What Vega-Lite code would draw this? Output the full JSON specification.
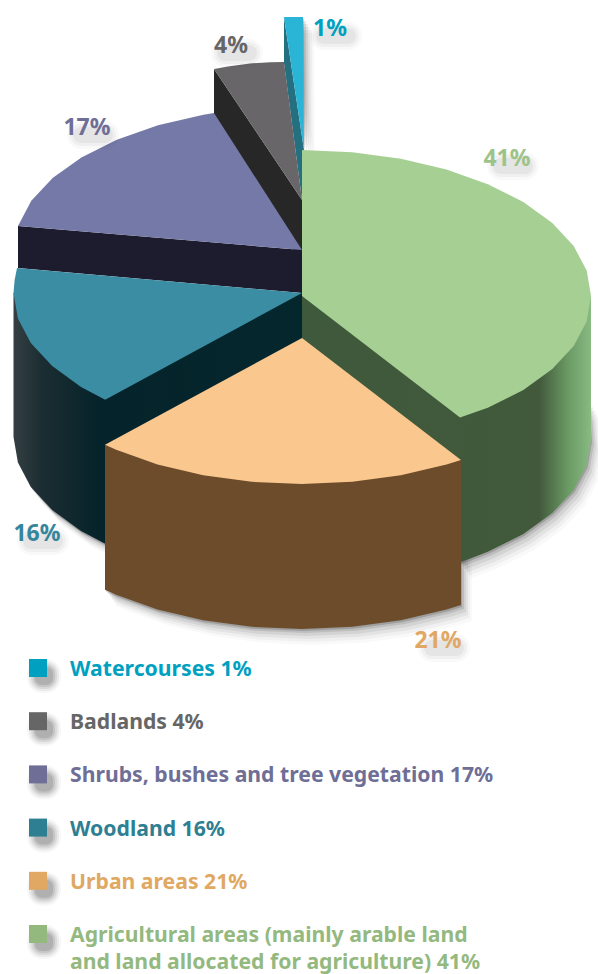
{
  "$schema": "https://vega.github.io/schema/vega-lite/v6.json",
  "width": 598,
  "height": 974,
  "padding": 0,
  "autosize": {"type": "none"},
  "background": "white",
  "config": {"view": {"stroke": null}},
  "datasets": {
    "land_cover": [
      {"category": "Watercourses", "share": 0.01, "rank": 1, "label_x": 330, "label_y": 28, "caption": "Watercourses 1%"},
      {"category": "Badlands", "share": 0.04, "rank": 2, "label_x": 231, "label_y": 45, "caption": "Badlands 4%"},
      {"category": "Shrubs", "share": 0.17, "rank": 3, "label_x": 87, "label_y": 127, "caption": "Shrubs, bushes and tree vegetation 17%"},
      {"category": "Woodland", "share": 0.16, "rank": 4, "label_x": 37, "label_y": 533, "caption": "Woodland 16%"},
      {"category": "Urban", "share": 0.21, "rank": 5, "label_x": 438, "label_y": 640, "caption": "Urban areas 21%"},
      {"category": "Agricultural", "share": 0.41, "rank": 6, "label_x": 507, "label_y": 158, "caption": "Agricultural areas (mainly arable land\nand land allocated for agriculture) 41%"}
    ],
    "outlines": [
      {"piece": "water_side", "i": 0, "x": 284, "y": 17},
      {"piece": "water_side", "i": 1, "x": 304, "y": 150},
      {"piece": "water_side", "i": 2, "x": 302, "y": 200},
      {"piece": "water_side", "i": 3, "x": 284, "y": 63},
      {"piece": "water_top", "i": 0, "x": 284, "y": 17},
      {"piece": "water_top", "i": 1, "x": 303, "y": 17},
      {"piece": "water_top", "i": 2, "x": 304, "y": 150},

      {"piece": "bad_side", "i": 0, "x": 214, "y": 69},
      {"piece": "bad_side", "i": 1, "x": 214, "y": 140},
      {"piece": "bad_side", "i": 2, "x": 302, "y": 262},
      {"piece": "bad_side", "i": 3, "x": 302, "y": 200},
      {"piece": "bad_top", "i": 0, "x": 214, "y": 69},
      {"piece": "bad_top", "i": 1, "x": 228, "y": 66.5},
      {"piece": "bad_top", "i": 2, "x": 250, "y": 63.5},
      {"piece": "bad_top", "i": 3, "x": 270, "y": 62.2},
      {"piece": "bad_top", "i": 4, "x": 284, "y": 62},
      {"piece": "bad_top", "i": 5, "x": 302, "y": 200},

      {"piece": "shrub_side", "i": 0, "x": 18, "y": 226},
      {"piece": "shrub_side", "i": 1, "x": 18, "y": 268},
      {"piece": "shrub_side", "i": 2, "x": 302, "y": 293},
      {"piece": "shrub_side", "i": 3, "x": 302, "y": 250},
      {"piece": "shrub_top", "i": 0, "x": 302, "y": 250},
      {"piece": "shrub_top", "i": 1, "x": 18, "y": 226},
      {"piece": "shrub_top", "i": 2, "x": 31.3, "y": 200.8},
      {"piece": "shrub_top", "i": 3, "x": 52.6, "y": 178},
      {"piece": "shrub_top", "i": 4, "x": 81.4, "y": 157.4},
      {"piece": "shrub_top", "i": 5, "x": 116.8, "y": 139.7},
      {"piece": "shrub_top", "i": 6, "x": 158, "y": 125.3},
      {"piece": "shrub_top", "i": 7, "x": 203.5, "y": 114.7},
      {"piece": "shrub_top", "i": 8, "x": 214, "y": 113},

      {"piece": "wood_side", "i": 0, "x": 302, "y": 293},
      {"piece": "wood_side", "i": 1, "x": 13.5, "y": 293},
      {"piece": "wood_side", "i": 2, "x": 13.5, "y": 437},
      {"piece": "wood_side", "i": 3, "x": 17.9, "y": 462.4},
      {"piece": "wood_side", "i": 4, "x": 30.8, "y": 486.9},
      {"piece": "wood_side", "i": 5, "x": 52.2, "y": 510},
      {"piece": "wood_side", "i": 6, "x": 81, "y": 530.9},
      {"piece": "wood_side", "i": 7, "x": 105.2, "y": 543.7},
      {"piece": "wood_side", "i": 8, "x": 302, "y": 437},
      {"piece": "wood_top", "i": 0, "x": 302, "y": 293},
      {"piece": "wood_top", "i": 1, "x": 17, "y": 268},
      {"piece": "wood_top", "i": 2, "x": 14.6, "y": 280.3},
      {"piece": "wood_top", "i": 3, "x": 13.5, "y": 293},
      {"piece": "wood_top", "i": 4, "x": 17.9, "y": 318.4},
      {"piece": "wood_top", "i": 5, "x": 30.8, "y": 342.9},
      {"piece": "wood_top", "i": 6, "x": 52.2, "y": 366},
      {"piece": "wood_top", "i": 7, "x": 81, "y": 386.9},
      {"piece": "wood_top", "i": 8, "x": 105.2, "y": 399.7},

      {"piece": "wood_cast", "i": 0, "x": 105, "y": 470},
      {"piece": "wood_cast", "i": 1, "x": 30.8, "y": 460},
      {"piece": "wood_cast", "i": 2, "x": 30.8, "y": 486.9},
      {"piece": "wood_cast", "i": 3, "x": 52.2, "y": 510},
      {"piece": "wood_cast", "i": 4, "x": 81, "y": 530.9},
      {"piece": "wood_cast", "i": 5, "x": 105.2, "y": 543.7},

      {"piece": "agri_side", "i": 0, "x": 302, "y": 296},
      {"piece": "agri_side", "i": 1, "x": 591, "y": 296},
      {"piece": "agri_side", "i": 2, "x": 591, "y": 440},
      {"piece": "agri_side", "i": 3, "x": 586.7, "y": 465.4},
      {"piece": "agri_side", "i": 4, "x": 573.7, "y": 489.9},
      {"piece": "agri_side", "i": 5, "x": 552.3, "y": 513},
      {"piece": "agri_side", "i": 6, "x": 523.4, "y": 533.9},
      {"piece": "agri_side", "i": 7, "x": 487.8, "y": 551.8},
      {"piece": "agri_side", "i": 8, "x": 460, "y": 562.5},
      {"piece": "agri_side", "i": 9, "x": 302, "y": 440},
      {"piece": "agri_top", "i": 0, "x": 302, "y": 296},
      {"piece": "agri_top", "i": 1, "x": 302, "y": 150},
      {"piece": "agri_top", "i": 2, "x": 352.3, "y": 152.2},
      {"piece": "agri_top", "i": 3, "x": 400.8, "y": 158.8},
      {"piece": "agri_top", "i": 4, "x": 446.5, "y": 169.6},
      {"piece": "agri_top", "i": 5, "x": 487.8, "y": 184.2},
      {"piece": "agri_top", "i": 6, "x": 523.4, "y": 202.1},
      {"piece": "agri_top", "i": 7, "x": 552.3, "y": 223},
      {"piece": "agri_top", "i": 8, "x": 573.7, "y": 246.1},
      {"piece": "agri_top", "i": 9, "x": 586.7, "y": 270.6},
      {"piece": "agri_top", "i": 10, "x": 591, "y": 296},
      {"piece": "agri_top", "i": 11, "x": 586.7, "y": 321.4},
      {"piece": "agri_top", "i": 12, "x": 573.7, "y": 345.9},
      {"piece": "agri_top", "i": 13, "x": 552.3, "y": 369},
      {"piece": "agri_top", "i": 14, "x": 523.4, "y": 389.9},
      {"piece": "agri_top", "i": 15, "x": 487.8, "y": 407.8},
      {"piece": "agri_top", "i": 16, "x": 460, "y": 417.5},

      {"piece": "agri_cast", "i": 0, "x": 440, "y": 500},
      {"piece": "agri_cast", "i": 1, "x": 588, "y": 400},
      {"piece": "agri_cast", "i": 2, "x": 591, "y": 440},
      {"piece": "agri_cast", "i": 3, "x": 586.7, "y": 465.4},
      {"piece": "agri_cast", "i": 4, "x": 573.7, "y": 489.9},
      {"piece": "agri_cast", "i": 5, "x": 552.3, "y": 513},
      {"piece": "agri_cast", "i": 6, "x": 523.4, "y": 533.9},
      {"piece": "agri_cast", "i": 7, "x": 487.8, "y": 551.8},
      {"piece": "agri_cast", "i": 8, "x": 460, "y": 562.5},

      {"piece": "urban_side", "i": 0, "x": 105, "y": 444.7},
      {"piece": "urban_side", "i": 1, "x": 461, "y": 459.9},
      {"piece": "urban_side", "i": 2, "x": 461, "y": 604.9},
      {"piece": "urban_side", "i": 3, "x": 446.5, "y": 609.4},
      {"piece": "urban_side", "i": 4, "x": 400.8, "y": 620.2},
      {"piece": "urban_side", "i": 5, "x": 352.3, "y": 626.8},
      {"piece": "urban_side", "i": 6, "x": 302, "y": 629},
      {"piece": "urban_side", "i": 7, "x": 251.7, "y": 626.8},
      {"piece": "urban_side", "i": 8, "x": 203.2, "y": 620.2},
      {"piece": "urban_side", "i": 9, "x": 157.5, "y": 609.4},
      {"piece": "urban_side", "i": 10, "x": 116.2, "y": 594.8},
      {"piece": "urban_side", "i": 11, "x": 105, "y": 589.7},
      {"piece": "urban_top", "i": 0, "x": 302, "y": 338},
      {"piece": "urban_top", "i": 1, "x": 461, "y": 459.9},
      {"piece": "urban_top", "i": 2, "x": 446.5, "y": 464.4},
      {"piece": "urban_top", "i": 3, "x": 400.8, "y": 475.2},
      {"piece": "urban_top", "i": 4, "x": 352.3, "y": 481.8},
      {"piece": "urban_top", "i": 5, "x": 302, "y": 484},
      {"piece": "urban_top", "i": 6, "x": 251.7, "y": 481.8},
      {"piece": "urban_top", "i": 7, "x": 203.2, "y": 475.2},
      {"piece": "urban_top", "i": 8, "x": 157.5, "y": 464.4},
      {"piece": "urban_top", "i": 9, "x": 116.2, "y": 449.8},
      {"piece": "urban_top", "i": 10, "x": 105, "y": 444.7}
    ]
  },
  "resolve": {"scale": {"y": "independent", "color": "independent"}},
  "layer": [
    {
      "data": {"name": "outlines"},
      "encoding": {
        "x": {"field": "x", "type": "quantitative", "scale": {"domain": [0, 598], "nice": false, "zero": false}, "axis": null},
        "y": {"field": "y", "type": "quantitative", "scale": {"domain": [0, 974], "reverse": true, "nice": false, "zero": false}, "axis": null},
        "order": {"field": "i", "type": "quantitative"},
        "detail": {"field": "piece"}
      },
      "layer": [
        {
          "transform": [{"filter": {"field": "piece", "oneOf": ["water_top", "wood_cast", "agri_cast", "urban_side"]}}],
          "mark": {"type": "line", "filled": true, "fill": "#000000", "strokeWidth": 0, "opacity": 0.025, "xOffset": 11, "yOffset": 16}
        },
        {
          "transform": [{"filter": {"field": "piece", "oneOf": ["water_top", "wood_cast", "agri_cast", "urban_side"]}}],
          "mark": {"type": "line", "filled": true, "fill": "#000000", "strokeWidth": 0, "opacity": 0.035, "xOffset": 9, "yOffset": 13}
        },
        {
          "transform": [{"filter": {"field": "piece", "oneOf": ["water_top", "wood_cast", "agri_cast", "urban_side"]}}],
          "mark": {"type": "line", "filled": true, "fill": "#000000", "strokeWidth": 0, "opacity": 0.05, "xOffset": 7, "yOffset": 10}
        },
        {
          "transform": [{"filter": {"field": "piece", "oneOf": ["water_top", "wood_cast", "agri_cast", "urban_side"]}}],
          "mark": {"type": "line", "filled": true, "fill": "#000000", "strokeWidth": 0, "opacity": 0.07, "xOffset": 5, "yOffset": 7}
        },
        {
          "transform": [{"filter": {"field": "piece", "oneOf": ["water_top", "wood_cast", "agri_cast", "urban_side"]}}],
          "mark": {"type": "line", "filled": true, "fill": "#000000", "strokeWidth": 0, "opacity": 0.1, "xOffset": 3, "yOffset": 4}
        },
        {
          "transform": [{"filter": {"field": "piece", "oneOf": ["water_top", "wood_cast", "agri_cast", "urban_side"]}}],
          "mark": {"type": "line", "filled": true, "fill": "#000000", "strokeWidth": 0, "opacity": 0.16, "xOffset": 1, "yOffset": 2}
        },
        {
          "transform": [{"filter": {"field": "piece", "equal": "water_side"}}],
          "mark": {"type": "line", "filled": true, "fill": "#246f80", "strokeWidth": 0}
        },
        {
          "transform": [{"filter": {"field": "piece", "equal": "water_top"}}],
          "mark": {"type": "line", "filled": true, "fill": "#2ab4d6", "strokeWidth": 0}
        },
        {
          "transform": [{"filter": {"field": "piece", "equal": "bad_side"}}],
          "mark": {"type": "line", "filled": true, "fill": "#272727", "strokeWidth": 0}
        },
        {
          "transform": [{"filter": {"field": "piece", "equal": "bad_top"}}],
          "mark": {"type": "line", "filled": true, "fill": "#686668", "strokeWidth": 0}
        },
        {
          "transform": [{"filter": {"field": "piece", "equal": "shrub_side"}}],
          "mark": {"type": "line", "filled": true, "fill": "#1c1c2e", "strokeWidth": 0}
        },
        {
          "transform": [{"filter": {"field": "piece", "equal": "shrub_top"}}],
          "mark": {"type": "line", "filled": true, "fill": "#7579a7", "strokeWidth": 0}
        },
        {
          "transform": [{"filter": {"field": "piece", "equal": "wood_side"}}],
          "mark": {
            "type": "line", "filled": true, "strokeWidth": 0,
            "fill": {
              "gradient": "linear", "x1": 0, "y1": 0, "x2": 1, "y2": 0,
              "stops": [
                {"offset": 0, "color": "#343f42"},
                {"offset": 0.1, "color": "#1b2d32"},
                {"offset": 0.3, "color": "#05232a"},
                {"offset": 1, "color": "#04272d"}
              ]
            }
          }
        },
        {
          "transform": [{"filter": {"field": "piece", "equal": "wood_top"}}],
          "mark": {"type": "line", "filled": true, "fill": "#3b8da3", "strokeWidth": 0}
        },
        {
          "transform": [{"filter": {"field": "piece", "equal": "agri_side"}}],
          "mark": {
            "type": "line", "filled": true, "strokeWidth": 0,
            "fill": {
              "gradient": "linear", "x1": 0, "y1": 0, "x2": 1, "y2": 0,
              "stops": [
                {"offset": 0, "color": "#3f593c"},
                {"offset": 0.82, "color": "#42593b"},
                {"offset": 0.92, "color": "#6b9a64"},
                {"offset": 1, "color": "#88ba82"}
              ]
            }
          }
        },
        {
          "transform": [{"filter": {"field": "piece", "equal": "agri_top"}}],
          "mark": {"type": "line", "filled": true, "fill": "#a6cf94", "strokeWidth": 0}
        },
        {
          "transform": [{"filter": {"field": "piece", "equal": "urban_side"}}],
          "mark": {"type": "line", "filled": true, "fill": "#6c4c2a", "strokeWidth": 0}
        },
        {
          "transform": [{"filter": {"field": "piece", "equal": "urban_top"}}],
          "mark": {"type": "line", "filled": true, "fill": "#fac88f", "strokeWidth": 0}
        }
      ]
    },
    {
      "data": {"name": "land_cover"},
      "encoding": {
        "x": {"field": "label_x", "type": "quantitative"},
        "y": {"field": "label_y", "type": "quantitative", "scale": {"domain": [0, 974], "reverse": true, "nice": false, "zero": false}, "axis": null}
      },
      "layer": [
        {"mark": {"type": "rect", "width": 52, "height": 28, "cornerRadius": 14, "fill": "#000000", "opacity": 0.025, "xOffset": 6, "yOffset": 8}},
        {"mark": {"type": "rect", "width": 46, "height": 22, "cornerRadius": 11, "fill": "#000000", "opacity": 0.035, "xOffset": 6, "yOffset": 8}},
        {"mark": {"type": "rect", "width": 40, "height": 16, "cornerRadius": 8, "fill": "#000000", "opacity": 0.045, "xOffset": 6, "yOffset": 8}},
        {
          "mark": {"type": "text", "font": "Noto Sans", "fontWeight": 700, "fontSize": 23, "dy": 1},
          "encoding": {
            "text": {"field": "share", "type": "quantitative", "format": ".0%"},
            "color": {
              "field": "category", "type": "nominal", "legend": null,
              "scale": {
                "domain": ["Watercourses", "Badlands", "Shrubs", "Woodland", "Urban", "Agricultural"],
                "range": ["#00a0c0", "#666666", "#6e6e96", "#35869c", "#e0a862", "#9cc48a"]
              }
            }
          }
        }
      ]
    },
    {
      "data": {"name": "land_cover"},
      "encoding": {
        "y": {"field": "rank", "type": "quantitative", "scale": {"domain": [1, 6], "range": [668, 934], "nice": false, "zero": false}, "axis": null}
      },
      "layer": [
        {"mark": {"type": "rect", "width": 34, "height": 34, "cornerRadius": 15, "fill": "#000000", "opacity": 0.03, "xOffset": 6, "yOffset": 8}, "encoding": {"x": {"datum": 38}}},
        {"mark": {"type": "rect", "width": 30, "height": 30, "cornerRadius": 13, "fill": "#000000", "opacity": 0.05, "xOffset": 6, "yOffset": 8}, "encoding": {"x": {"datum": 38}}},
        {"mark": {"type": "rect", "width": 26, "height": 26, "cornerRadius": 11, "fill": "#000000", "opacity": 0.07, "xOffset": 6, "yOffset": 8}, "encoding": {"x": {"datum": 38}}},
        {"mark": {"type": "rect", "width": 22, "height": 22, "cornerRadius": 9, "fill": "#000000", "opacity": 0.09, "xOffset": 6, "yOffset": 8}, "encoding": {"x": {"datum": 38}}},
        {"mark": {"type": "rect", "width": 18, "height": 18, "cornerRadius": 7, "fill": "#000000", "opacity": 0.1, "xOffset": 6, "yOffset": 8}, "encoding": {"x": {"datum": 38}}},
        {
          "mark": {"type": "square", "size": 324, "opacity": 1},
          "encoding": {
            "x": {"datum": 38},
            "color": {
              "field": "category", "type": "nominal", "legend": null,
              "scale": {
                "domain": ["Watercourses", "Badlands", "Shrubs", "Woodland", "Urban", "Agricultural"],
                "range": ["#00a0c0", "#666666", "#6e6e96", "#2f7f93", "#e0a862", "#94b97f"]
              }
            }
          }
        },
        {
          "mark": {"type": "text", "font": "Noto Sans", "fontWeight": 700, "fontSize": 21.2, "align": "left", "baseline": "alphabetic", "dy": 8, "lineBreak": "\n", "lineHeight": 27},
          "encoding": {
            "x": {"datum": 70},
            "text": {"field": "caption"},
            "color": {
              "field": "category", "type": "nominal", "legend": null,
              "scale": {
                "domain": ["Watercourses", "Badlands", "Shrubs", "Woodland", "Urban", "Agricultural"],
                "range": ["#00a0c0", "#666666", "#6e6e96", "#2f7f93", "#e0a862", "#94b97f"]
              }
            }
          }
        }
      ]
    }
  ]
}
